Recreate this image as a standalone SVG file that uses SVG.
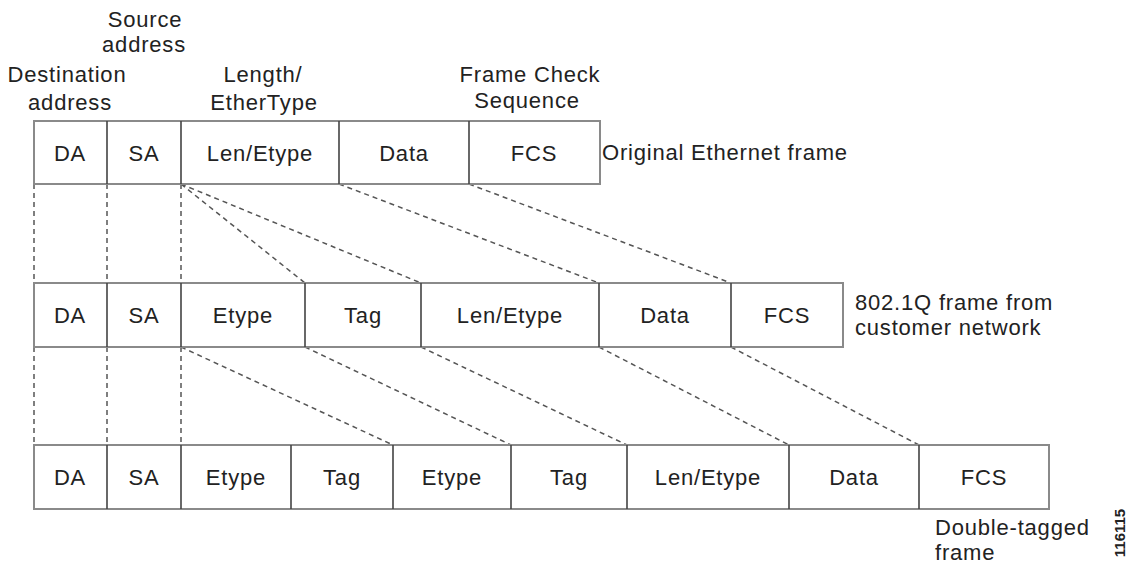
<svg xmlns="http://www.w3.org/2000/svg" width="1139" height="564" viewBox="0 0 1139 564">
<style>
text{font-family:"Liberation Sans",Arial,sans-serif;font-size:22px;fill:#222;letter-spacing:0.8px}
.c{text-anchor:middle}
.frame{fill:#fff;stroke:#8a8a8a;stroke-width:2}
.div{stroke:#444;stroke-width:1.6}
.dash{stroke:#555;stroke-width:1.5;stroke-dasharray:5 4;fill:none}
.id{font-size:15px;font-weight:bold;letter-spacing:0}
</style>
<rect width="1139" height="564" fill="#fff"/>
<g id="connectors">
<path class="dash" d="M34 184V283M107 184V283M181 184V283M34 347V445M107 347V445M181 347V445"/>
<path class="dash" d="M181 184L305 283M181 184L421 283M339 184L599 283M469 184L731 283"/>
<path class="dash" d="M181 347L393 445M305 347L511 445M421 347L627 445M599 347L789 445M731 347L919 445"/>
</g>
<g id="header-labels">
<text class="c" x="145" y="27">Source</text>
<text class="c" x="144" y="52">address</text>
<text class="c" x="67" y="82">Destination</text>
<text class="c" x="70" y="110">address</text>
<text class="c" x="263" y="82">Length/</text>
<text class="c" x="264" y="110">EtherType</text>
<text class="c" x="530" y="82">Frame Check</text>
<text class="c" x="527" y="108">Sequence</text>
</g>
<g id="frame1">
<rect class="frame" x="34" y="121" width="566" height="63"/>
<path class="div" d="M107 121V184M181 121V184M339 121V184M469 121V184"/>
<text class="c" x="70" y="161">DA</text>
<text class="c" x="144" y="161">SA</text>
<text class="c" x="260" y="161">Len/Etype</text>
<text class="c" x="404" y="161">Data</text>
<text class="c" x="534" y="161">FCS</text>
<text x="602" y="160">Original Ethernet frame</text>
</g>
<g id="frame2">
<rect class="frame" x="34" y="283" width="809" height="64"/>
<path class="div" d="M107 283V347M181 283V347M305 283V347M421 283V347M599 283V347M731 283V347"/>
<text class="c" x="70" y="323">DA</text>
<text class="c" x="144" y="323">SA</text>
<text class="c" x="243" y="323">Etype</text>
<text class="c" x="363" y="323">Tag</text>
<text class="c" x="510" y="323">Len/Etype</text>
<text class="c" x="665" y="323">Data</text>
<text class="c" x="787" y="323">FCS</text>
<text x="855" y="310">802.1Q frame from</text>
<text x="855" y="335">customer network</text>
</g>
<g id="frame3">
<rect class="frame" x="34" y="445" width="1015" height="64"/>
<path class="div" d="M107 445V509M181 445V509M291 445V509M393 445V509M511 445V509M627 445V509M789 445V509M919 445V509"/>
<text class="c" x="70" y="485">DA</text>
<text class="c" x="144" y="485">SA</text>
<text class="c" x="236" y="485">Etype</text>
<text class="c" x="342" y="485">Tag</text>
<text class="c" x="452" y="485">Etype</text>
<text class="c" x="569" y="485">Tag</text>
<text class="c" x="708" y="485">Len/Etype</text>
<text class="c" x="854" y="485">Data</text>
<text class="c" x="984" y="485">FCS</text>
<text x="935" y="535">Double-tagged</text>
<text x="935" y="560">frame</text>
</g>
<text class="id c" transform="translate(1125 533) rotate(-90)">116115</text>
</svg>
